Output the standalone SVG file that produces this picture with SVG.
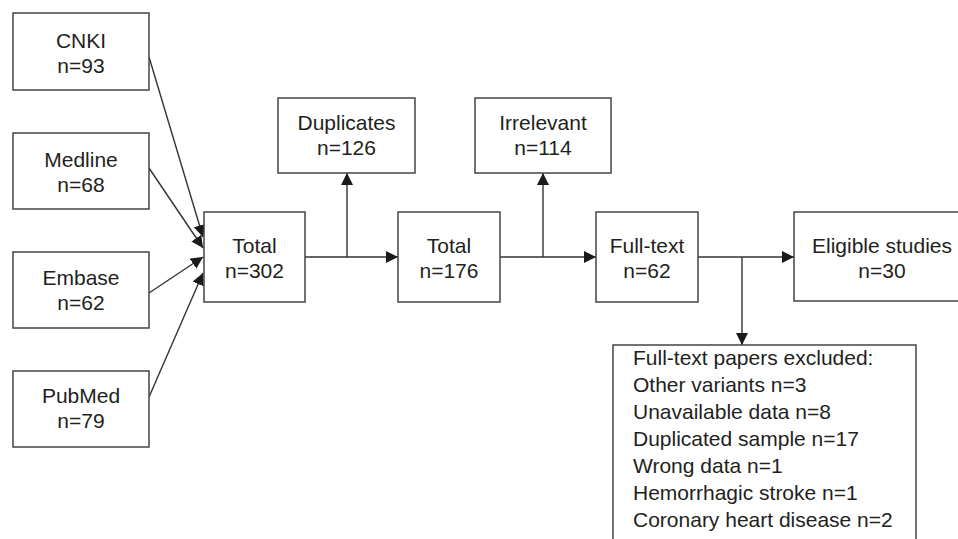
<svg xmlns="http://www.w3.org/2000/svg" width="958" height="539" viewBox="0 0 958 539">
<style>
.box{fill:#fff;stroke:#444;stroke-width:1.5}
.t{font-family:"Liberation Sans",Arial,sans-serif;font-size:21px;fill:#231f20;text-anchor:middle}
.tl{font-family:"Liberation Sans",Arial,sans-serif;font-size:21px;fill:#231f20;text-anchor:start}
.c{stroke:#333;stroke-width:1.4;fill:none;marker-end:url(#ah)}
.cn{stroke:#333;stroke-width:1.4;fill:none}
</style>
<defs>
<marker id="ah" markerWidth="12" markerHeight="12" refX="12" refY="6" orient="auto" markerUnits="userSpaceOnUse">
<path d="M0,0 L12,6 L0,12 z" fill="#1a1a1a"/>
</marker>
</defs>
<rect width="958" height="539" fill="#fff"/>
<g id="connectors">
<line class="c" x1="149" y1="57" x2="203" y2="237"/>
<line class="c" x1="149" y1="168" x2="203" y2="248"/>
<line class="c" x1="149" y1="293" x2="203" y2="257"/>
<line class="c" x1="149" y1="397" x2="203" y2="273"/>
<line class="c" x1="305" y1="257" x2="398" y2="257"/>
<line class="c" x1="347" y1="257" x2="347" y2="173"/>
<line class="c" x1="500" y1="257" x2="596" y2="257"/>
<line class="c" x1="543" y1="257" x2="543" y2="173"/>
<line class="c" x1="698" y1="257" x2="794" y2="257"/>
<line class="c" x1="742" y1="257" x2="742" y2="345"/>
</g>
<g id="cnki"><rect class="box" x="13" y="13" width="136" height="77"/><text class="t" x="81" y="48">CNKI</text><text class="t" x="81" y="73">n=93</text></g>
<g id="medline"><rect class="box" x="13" y="133" width="136" height="76"/><text class="t" x="81" y="167">Medline</text><text class="t" x="81" y="192">n=68</text></g>
<g id="embase"><rect class="box" x="13" y="252" width="136" height="76"/><text class="t" x="81" y="285">Embase</text><text class="t" x="81" y="310">n=62</text></g>
<g id="pubmed"><rect class="box" x="13" y="371" width="136" height="76"/><text class="t" x="81" y="403">PubMed</text><text class="t" x="81" y="428">n=79</text></g>
<g id="total1"><rect class="box" x="204" y="212" width="101" height="90"/><text class="t" x="254.5" y="253">Total</text><text class="t" x="254.5" y="278">n=302</text></g>
<g id="duplicates"><rect class="box" x="278" y="98" width="137" height="75"/><text class="t" x="346.5" y="130">Duplicates</text><text class="t" x="346.5" y="155">n=126</text></g>
<g id="total2"><rect class="box" x="398" y="212" width="102" height="90"/><text class="t" x="449" y="253">Total</text><text class="t" x="449" y="278">n=176</text></g>
<g id="irrelevant"><rect class="box" x="475" y="98" width="136" height="75"/><text class="t" x="543" y="130">Irrelevant</text><text class="t" x="543" y="155">n=114</text></g>
<g id="fulltext"><rect class="box" x="596" y="212" width="102" height="90"/><text class="t" x="647" y="253">Full-text</text><text class="t" x="647" y="278">n=62</text></g>
<g id="eligible"><rect class="box" x="794" y="212" width="176" height="89"/><text class="t" x="882" y="253">Eligible studies</text><text class="t" x="882" y="278">n=30</text></g>
<g id="excluded"><rect class="box" x="613" y="345" width="303" height="210"/>
<text class="tl" x="633" y="365">Full-text papers excluded:</text>
<text class="tl" x="633" y="392">Other variants n=3</text>
<text class="tl" x="633" y="419">Unavailable data n=8</text>
<text class="tl" x="633" y="446">Duplicated sample n=17</text>
<text class="tl" x="633" y="473">Wrong data n=1</text>
<text class="tl" x="633" y="500">Hemorrhagic stroke n=1</text>
<text class="tl" x="633" y="527">Coronary heart disease n=2</text>
</g>
</svg>
